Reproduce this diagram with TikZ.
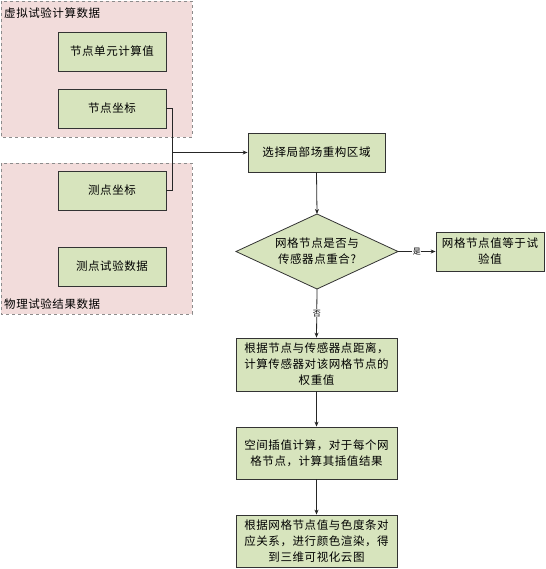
\documentclass[tikz,border=0pt]{standalone}
\usepackage{fontspec}
\setmainfont[LetterSpace=5]{Noto Sans CJK SC}
\usetikzlibrary{shapes.geometric,arrows.meta}
\definecolor{boxfill}{HTML}{D7E4BD}
\definecolor{grpfill}{HTML}{F2DCDB}
\definecolor{grpline}{HTML}{8C8C8C}
\begin{document}
\begin{tikzpicture}[x=1pt,y=-1pt,
  grp/.style={draw=grpline,dashed,fill=grpfill,line width=0.8pt},
  grplabel/.style={anchor=west,inner sep=0pt,font=\fontsize{11.5}{13}\selectfont},
  stepbox/.style={draw=black!80,fill=boxfill,line width=0.8pt,inner sep=0pt,align=center,font=\fontsize{11.5}{16}\selectfont},
  decfill/.style={draw=black!80,fill=boxfill,line width=0.8pt},
  dectext/.style={inner sep=0pt,align=center,font=\fontsize{11.5}{16}\selectfont},
  conn/.style={draw=black!85,line width=0.8pt},
  arr/.style={conn,-{Stealth[length=5pt,width=4pt]}},
  lbl/.style={font=\fontsize{8}{9}\selectfont,inner sep=0.5pt,fill=white}
]
\useasboundingbox (0,0) rectangle (545,569);
% groups
\draw[grp] (1,1) rectangle (192,137);
\node[grplabel] (g1) at (4,13) {虚拟试验计算数据};
\draw[grp] (1,163) rectangle (192,314);
\node[grplabel] (g2) at (4,304) {物理试验结果数据};
% boxes in groups
\node[stepbox,minimum width=108pt,minimum height=39pt] (a) at (112,51.5) {节点单元计算值};
\node[stepbox,minimum width=108pt,minimum height=39pt] (b) at (112,108.5) {节点坐标};
\node[stepbox,minimum width=108pt,minimum height=39pt] (c) at (112,190.5) {测点坐标};
\node[stepbox,minimum width=108pt,minimum height=39pt] (d) at (112,266.5) {测点试验数据};
% main flow
\node[stepbox,minimum width=137pt,minimum height=39pt] (s) at (316.5,152.5) {选择局部场重构区域};
\coordinate (qn) at (317,214);
\coordinate (qs) at (317,289);
\coordinate (qe) at (398,251.5);
\coordinate (qw) at (236,251.5);
\draw[decfill] (qn) -- (qe) -- (qs) -- (qw) -- cycle;
\node[dectext] (q) at (317,251.5) {网格节点是否与\\传感器点重合?};
\node[stepbox,minimum width=108pt,minimum height=39pt] (y) at (490,251.5) {网格节点值等于试\\验值};
\node[stepbox,minimum width=161pt,minimum height=53pt] (w) at (316.5,364.5) {根据节点与传感器点距离，\\计算传感器对该网格节点的\\权重值};
\node[stepbox,minimum width=161pt,minimum height=52pt] (i) at (316.5,453) {空间插值计算，对于每个网\\格节点，计算其插值结果};
\node[stepbox,minimum width=161pt,minimum height=52pt] (r) at (316.5,541) {根据网格节点值与色度条对\\应关系，进行颜色渲染，得\\到三维可视化云图};
% connectors
\coordinate (j) at (172,152.5);
\draw[conn] (b.east) -| (j);
\draw[conn] (c.east) -| (j);
\draw[arr] (j) -- (s.west);
\draw[arr] (s.south) -- (qn);
\draw[arr] (qe) -- node[lbl] (lyes) {是} (y.west);
\draw[arr] (qs) -- node[lbl,pos=0.5] (lno) {否} (w.north);
\draw[arr] (w.south) -- (i.north);
\draw[arr] (i.south) -- (r.north);
\end{tikzpicture}
\end{document}
